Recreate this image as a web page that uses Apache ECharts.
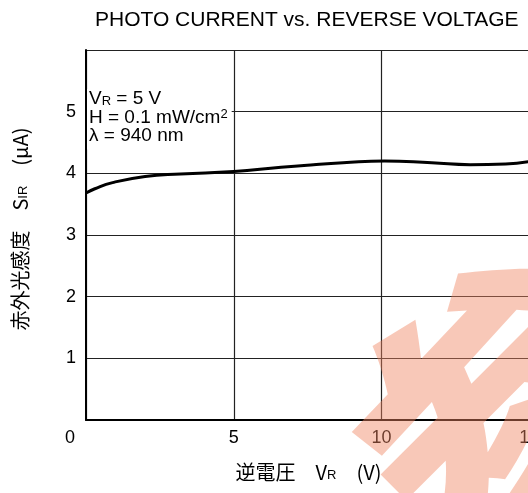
<!DOCTYPE html>
<html>
<head>
<meta charset="utf-8">
<script src="https://cdn.jsdelivr.net/npm/echarts@6/dist/echarts.min.js"></script>
<style>
  html, body { margin: 0; padding: 0; background: #fff; }
  #chart { width: 528px; height: 493px; }
</style>
</head>
<body>
<div id="chart"></div>
<script>
// 逆電圧 (V) と 赤外光感度 (μA)
const voltage = [0, 0.3, 0.9, 2, 3.2, 5, 6.6, 7.7, 8.7, 10.1, 11.7, 13, 14.2, 15.1]
const current = [3.68, 3.75, 3.85, 3.95, 3.99, 4.03, 4.10, 4.14, 4.17, 4.20, 4.17, 4.14, 4.15, 4.20]

const titleText = 'PHOTO CURRENT vs. REVERSE VOLTAGE'
const xName = '逆電圧　V{s|R}　(V)'
const yName = '赤外光感度　S{s|IR}　(μA)'
const conditions = ['V{s|R} = 5 V', 'H = 0.1 mW/cm{sup|2}', 'λ = 940 nm']

const FONT = '"Liberation Sans", Arial, "Noto Sans CJK JP", sans-serif'
const CJK = '"Noto Sans CJK JP", "Liberation Sans", sans-serif'

const chart = echarts.init(document.getElementById('chart'))

const option = {
  animation: false,
  backgroundColor: '#fff',
  title: {
    text: titleText,
    left: 90,
    top: 5,
    textStyle: { fontFamily: FONT, fontSize: 21, fontWeight: 'normal', color: '#000' }
  },
  grid: {
    left: 86,
    top: 50,
    width: 591,
    height: 370,
    outerBoundsMode: 'none'
  },
  xAxis: {
    type: 'value',
    min: 0,
    max: 20,
    interval: 5,
    name: xName,
    nameLocation: 'middle',
    nameGap: 42,
    nameTextStyle: {
      fontFamily: CJK,
      fontSize: 20,
      color: '#000',
      padding: [0, 146, 0, 0],
      rich: { s: { fontFamily: FONT, fontSize: 13, color: '#000', padding: [6, 0, 0, 0] } }
    },
    axisLine: { lineStyle: { color: '#000', width: 2 } },
    axisTick: { show: false },
    axisLabel: {
      fontFamily: FONT,
      fontSize: 18,
      color: '#000',
      margin: 9,
      formatter: v => v === 0 ? '{z|0}' : String(v),
      rich: { z: { fontFamily: FONT, fontSize: 18, color: '#000', padding: [0, 32, 0, 0] } }
    },
    splitLine: { show: true, lineStyle: { color: '#222', width: 1.2 } }
  },
  yAxis: {
    type: 'value',
    min: 0,
    max: 6,
    interval: 1,
    name: yName,
    nameLocation: 'middle',
    nameGap: 56,
    nameRotate: 90,
    nameTextStyle: {
      fontFamily: CJK,
      fontSize: 20,
      color: '#000',
      padding: [0, 0, 0, 12],
      rich: { s: { fontFamily: FONT, fontSize: 13, color: '#000', padding: [6, 0, 0, 0] } }
    },
    axisLine: { show: true, lineStyle: { color: '#000', width: 2 } },
    axisTick: { show: false },
    axisLabel: {
      fontFamily: FONT,
      fontSize: 18,
      color: '#000',
      margin: 10,
      formatter: v => (v === 0 || v === 6) ? '' : String(v)
    },
    splitLine: { show: true, lineStyle: { color: '#222', width: 1.2 } }
  },
  series: [
    {
      type: 'line',
      data: voltage.map((v, i) => [v, current[i]]),
      smooth: true,
      showSymbol: false,
      lineStyle: { color: '#000', width: 3 },
      z: 3
    }
  ],
  graphic: [
    {
      type: 'text',
      left: 87,
      top: 89,
      z: 10,
      style: {
        text: conditions.join('\n'),
        fontFamily: FONT,
        fontSize: 19,
        lineHeight: 18.5,
        fill: '#000',
        backgroundColor: '#fff',
        padding: [1, 4, 4, 2],
        rich: {
          s: { fontFamily: FONT, fontSize: 13, fill: '#000', lineHeight: 18.5, padding: [5, 0, 0, 0] },
          sup: { fontFamily: FONT, fontSize: 13, fill: '#000', lineHeight: 18.5, padding: [0, 0, 7, 0] }
        }
      }
    },
    {
      // 参考 watermark
      type: 'text',
      x: 510,
      y: 410,
      rotation: Math.PI / 4,
      z: 20,
      silent: true,
      style: {
        text: '参',
        fontFamily: CJK,
        fontWeight: 900,
        fontSize: 300,
        fill: 'rgba(239,133,97,0.45)',
        align: 'center',
        verticalAlign: 'middle'
      }
    }
  ]
}

chart.setOption(option)
</script>
</body>
</html>
